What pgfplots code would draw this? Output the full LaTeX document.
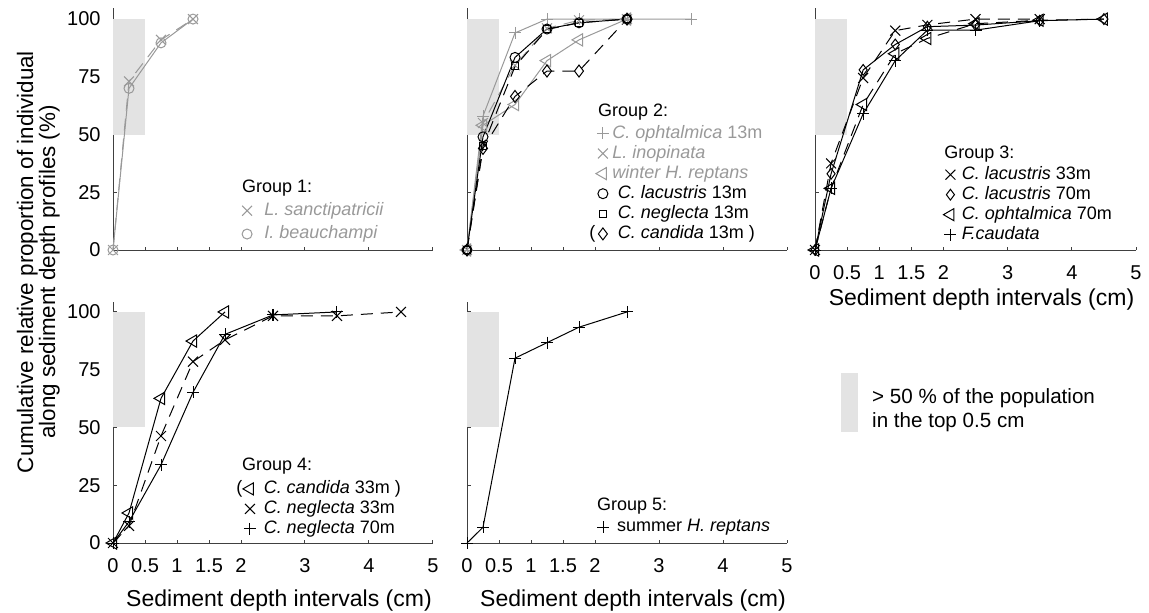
\documentclass[border=0pt]{standalone}
\usepackage{fontspec}
\setmainfont{Liberation Sans}
\usepackage{pgfplots}
\pgfplotsset{compat=1.18}

\definecolor{lg}{gray}{0.6}
\definecolor{boxgray}{gray}{0.89}
\definecolor{axcol}{gray}{0.25}

\newcommand{\legfont}{\fontsize{9}{10.8}\selectfont}

\pgfplotsset{
  legend image code/.code={\path[draw=none, fill=none] (-7pt,0pt) -- (3.2pt,0pt); \draw[#1] plot coordinates {(0pt,0pt)};},
  paren image/.style={legend image code/.code={%
      \node[anchor=base east, inner sep=0pt, font=\legfont, draw=none, fill=none] at (-3.5pt,-2.35pt) {(};
      \path[draw=none, fill=none] (-7pt,0pt) -- (3.2pt,0pt); \draw[##1] plot coordinates {(0pt,0pt)};}},
  panel/.style={
    scale only axis, anchor=south west,
    width=160pt, height=121pt,
    xmin=0, xmax=5, ymin=0, ymax=104.8,
    axis x line=bottom, axis y line=left,
    axis line style={-, axcol, line width=0.5pt},
    tick style={axcol, line width=0.5pt},
    major tick length=1.75pt, tick align=inside,
    xtick={0,0.5,1,1.5,2,3,4,5},
    ytick={0,25,50,75,100},
    xticklabels={0,0.5,1,1.5,2,3,4,5},
    yticklabels={0,25,50,75,100},
    /pgf/number format/assume math mode=true,
    ticklabel style={font=\fontsize{10}{12}\selectfont},
    yticklabel style={xshift=-2.7pt},
    xticklabel style={yshift=-4.2pt},
    clip=false,
    legend cell align=left,
    legend style={draw=none, fill=none, inner sep=0pt, anchor=north west,
      font=\legfont, nodes={inner sep=0pt, text height=6.6pt, text depth=1.9pt}},
    every axis plot/.append style={line width=0.5pt},
  },
  xlab/.style={xlabel={Sediment depth intervals (cm)},
    xlabel style={at={(axis description cs:0.5,0)}, anchor=north, inner sep=0pt,
      font=\fontsize{11.5}{13}\selectfont, yshift=#1, xshift=3pt}},
  tri/.style={mark=triangle, mark size=3.5pt, mark options={solid, rotate=90}},
  xm/.style={mark=x, mark size=3.5pt, mark options={solid}},
  pm/.style={mark=+, mark size=3pt, mark options={solid}},
  om/.style={mark=o, mark size=2.5pt, mark options={solid}},
  sm/.style={mark=square, mark size=1.75pt, mark options={solid}},
  dm/.style={mark=diamond, mark size=3pt, mark options={solid}},
  dsh/.style={dash pattern=on 6pt off 4pt},
  topbox/.style={fill=boxgray, draw=none, forget plot},
}

\begin{document}
\begin{tikzpicture}
\useasboundingbox (0,0) rectangle (574.5pt,306pt);

% ---- Group 1
\begin{axis}[panel, at={(56.5pt,181pt)}, xticklabels={},
  legend style={at={(0.374,0.199)}, row sep=3.15pt, column sep=5.45pt}]
\addplot[topbox] coordinates {(0,50) (0,100) (0.5,100) (0.5,50)} -- cycle;
\addplot[lg, dsh, xm] coordinates {(0,0) (0.25,73) (0.75,91) (1.25,100)};
\addlegendentry[text=lg]{\textit{L. sanctipatricii}}
\addplot[lg, om] coordinates {(0,0) (0.25,70) (0.75,89.7) (1.25,100)};
\addlegendentry[text=lg]{\textit{I. beauchampi}}
\node[anchor=base west, inner sep=0pt, font=\legfont] at (axis description cs:0.402,0.2368) {Group 1:};
\end{axis}

% ---- Group 2
\begin{axis}[panel, at={(233.5pt,181pt)}, xticklabels={}, yticklabels={},
  legend style={at={(0.3797,0.5186)}, row sep=1.55pt, column sep=0pt}]
\addplot[topbox] coordinates {(0,50) (0,100) (0.5,100) (0.5,50)} -- cycle;
\addplot[lg, pm] coordinates {(0,0) (0.25,58) (0.75,94) (1.25,100) (1.75,100) (2.5,100) (3.5,100)};
\addlegendentry[text=lg]{\hspace{1.5pt}\textit{C. ophtalmica} 13m}
\addplot[lg, dsh, xm] coordinates {(0,0) (0.25,55) (0.75,80) (1.25,96) (1.75,99.5) (2.5,100)};
\addlegendentry[text=lg]{\hspace{1.5pt}\textit{L. inopinata}}
\addplot[lg, tri] coordinates {(0,0) (0.25,54) (0.75,63) (1.25,82) (1.75,91) (2.5,100)};
\addlegendentry[text=lg]{\hspace{1.5pt}\textit{winter H. reptans}}
\addplot[black, om] coordinates {(0,0) (0.25,49) (0.75,83.4) (1.25,95.7) (1.75,98.4) (2.5,100)};
\addlegendentry{\hspace{4.3pt}\textit{C. lacustris} 13m}
\addplot[black, dsh, sm] coordinates {(0,0) (0.25,45) (0.75,79.5) (1.25,95.5) (1.75,98.4) (2.5,100)};
\addlegendentry{\hspace{4.3pt}\textit{C. neglecta} 13m}
\addplot[black, dsh, dm, paren image] coordinates {(0,0) (0.25,44) (0.75,66.5) (1.25,77.5) (1.75,77.5) (2.5,100)};
\addlegendentry{\hspace{4.3pt}\textit{C. candida} 13m )}
\node[anchor=base west, inner sep=0pt, font=\legfont] at (axis description cs:0.4084,0.5508) {Group 2:};
\end{axis}

% ---- Group 3
\begin{axis}[panel, at={(407.5pt,181pt)}, width=160.5pt, yticklabels={}, xlab=-19pt,
  legend style={at={(0.377,0.348)}, row sep=1.5pt, column sep=2.5pt}]
\addplot[topbox] coordinates {(0,50) (0,100) (0.5,100) (0.5,50)} -- cycle;
\addplot[black, dsh, xm] coordinates {(0,0) (0.25,37.5) (0.75,74.5) (1.25,95) (1.75,97.5) (2.5,100) (3.5,100)};
\addlegendentry{\textit{C. lacustris} 33m}
\addplot[black, dm, mark size=2.7pt] coordinates {(0,0) (0.25,33) (0.75,78) (1.25,89) (1.75,96.7) (2.5,97.4) (3.5,99.3) (4.5,100)};
\addlegendentry{\textit{C. lacustris} 70m}
\addplot[black, dsh, tri] coordinates {(0,0) (0.25,26.7) (0.75,63) (1.25,85) (1.75,91.6) (2.5,98) (3.5,99.5) (4.5,100)};
\addlegendentry{\textit{C. ophtalmica} 70m}
\addplot[black, pm] coordinates {(0,0) (0.25,26.7) (0.75,59) (1.25,82) (1.75,95.2) (2.5,95.2) (3.5,99.3)};
\addlegendentry{\textit{F.caudata}}
\node[anchor=base west, inner sep=0pt, font=\legfont] at (axis description cs:0.402,0.379) {Group 3:};
\end{axis}

% ---- Group 4
\begin{axis}[panel, at={(56.5pt,34.5pt)}, height=120.5pt, ymax=104.3, xlab=-23pt,
  legend style={at={(0.383,0.2614)}, row sep=1.5pt, column sep=3.7pt}]
\addplot[topbox] coordinates {(0,50) (0,100) (0.5,100) (0.5,50)} -- cycle;
\addplot[black, tri, paren image] coordinates {(0,0) (0.25,13) (0.75,62.6) (1.25,87.4) (1.75,100)};
\addlegendentry{\textit{C. candida} 33m )}
\addplot[black, dsh, xm] coordinates {(0,0) (0.25,7.4) (0.75,46.3) (1.25,78.5) (1.75,87.9) (2.5,98.3) (3.5,98.3) (4.5,100)};
\addlegendentry{\textit{C. neglecta} 33m}
\addplot[black, pm] coordinates {(0,0) (0.25,9.2) (0.75,33.8) (1.25,65.2) (1.75,90.3) (2.5,98.7) (3.5,100)};
\addlegendentry{\textit{C. neglecta} 70m}
\node[anchor=base west, inner sep=0pt, font=\legfont] at (axis description cs:0.402,0.3029) {Group 4:};
\end{axis}

% ---- Group 5
\begin{axis}[panel, at={(233.5pt,34.5pt)}, height=120.5pt, ymax=104.3, yticklabels={}, xlab=-23pt,
  legend style={at={(0.3803,0.1025)}, row sep=1.5pt, column sep=3.8pt}]
\addplot[topbox] coordinates {(0,50) (0,100) (0.5,100) (0.5,50)} -- cycle;
\addplot[black, pm] coordinates {(0,0) (0.25,6.8) (0.75,80) (1.25,86.7) (1.75,93.4) (2.5,100)};
\addlegendentry{summer \textit{H. reptans}}
\node[anchor=base west, inner sep=0pt, font=\legfont] at (axis description cs:0.4053,0.134) {Group 5:};
\end{axis}

% ---- key for the shaded box
\begin{axis}[at={(420.5pt,88.5pt)}, anchor=south west, scale only axis,
  width=8pt, height=29pt, hide axis, xmin=0, xmax=1, ymin=0, ymax=1,
  legend cell align=left,
  legend style={at={(0,0)}, anchor=south west, draw=none, fill=none, inner sep=0pt,
    column sep=5pt, font=\fontsize{10.3}{12}\selectfont, cells={align=left, inner sep=0pt}},
  legend image code/.code={\fill[boxgray] (0pt,-10.75pt) rectangle (8pt,18.25pt);}]
\addlegendimage{boxgray}
\addlegendentry{> 50 \% of the population\\in the top 0.5 cm}
\end{axis}

% ---- shared y label
\node[rotate=90, anchor=base, inner sep=0pt, font=\fontsize{11.2}{13}\selectfont]
  at (16.5pt,175pt) {Cumulative relative proportion of individual};
\node[rotate=90, anchor=base, inner sep=0pt, font=\fontsize{11.2}{13}\selectfont]
  at (27.5pt,170pt) {along sediment depth profiles (\%)};
\end{tikzpicture}
\end{document}
